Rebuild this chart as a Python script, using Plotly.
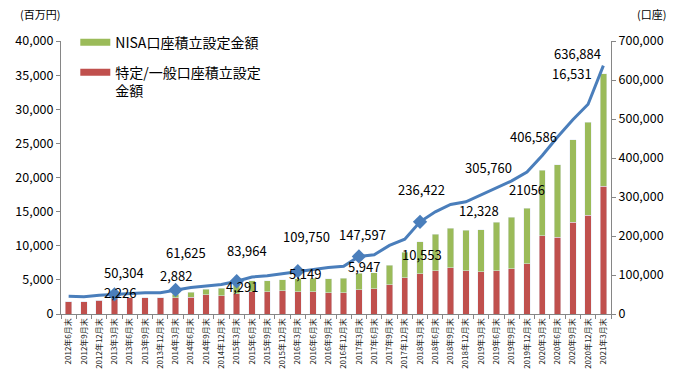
import plotly.graph_objects as go

categories = [
    "2012年6月末", "2012年9月末", "2012年12月末",
    "2013年3月末", "2013年6月末", "2013年9月末", "2013年12月末",
    "2014年3月末", "2014年6月末", "2014年9月末", "2014年12月末",
    "2015年3月末", "2015年6月末", "2015年9月末", "2015年12月末",
    "2016年3月末", "2016年6月末", "2016年9月末", "2016年12月末",
    "2017年3月末", "2017年6月末", "2017年9月末", "2017年12月末",
    "2018年3月末", "2018年6月末", "2018年9月末", "2018年12月末",
    "2019年3月末", "2019年6月末", "2019年9月末", "2019年12月末",
    "2020年3月末", "2020年6月末", "2020年9月末", "2020年12月末",
    "2021年3月末",
]

# 特定/一般口座積立設定金額 (百万円)
general_amount = [
    1810, 1810, 1990, 2226, 2450, 2400, 2400, 2400, 2420, 2820, 2700, 2990,
    3280, 3280, 3430, 3280, 3280, 3140, 3080, 3550, 3720, 4310, 5340, 5930,
    6370, 6810, 6370, 6220, 6370, 6660, 7400, 11500, 11220, 13450, 14450, 18700,
]

# NISA口座積立設定金額 (百万円)
nisa_amount = [
    0, 0, 0, 0, 0, 0, 0, 482, 740, 790, 1070, 1301,
    1570, 1570, 1620, 1869, 1960, 2050, 2160, 2397, 2310, 2840, 3680, 4623,
    5290, 5780, 5930, 6108, 7100, 7550, 8080, 9556, 10630, 12070, 13680, 16531,
]

# 口座数
accounts = [
    45300, 44400, 47900, 50304, 53800, 54300, 54800, 61625, 68000, 72000, 75400, 83964,
    95000, 98100, 103200, 109750, 115000, 119000, 122500, 147597, 152000, 176000, 192000, 236422,
    262000, 281000, 287600, 305760, 322700, 341400, 364000, 406586, 454000, 498000, 538000, 636884,
]

marked_points = ["2013年3月末", "2014年3月末", "2015年3月末", "2016年3月末", "2017年3月末", "2018年3月末"]

account_labels = {
    "2013年3月末": "50,304", "2014年3月末": "61,625", "2015年3月末": "83,964",
    "2016年3月末": "109,750", "2017年3月末": "147,597", "2018年3月末": "236,422",
    "2019年3月末": "305,760", "2020年3月末": "406,586", "2021年3月末": "636,884",
}
amount_labels = {
    "2013年3月末": "2,226", "2014年3月末": "2,882", "2015年3月末": "4,291",
    "2016年3月末": "5,149", "2017年3月末": "5,947", "2018年3月末": "10,553",
    "2019年3月末": "12,328", "2020年3月末": "21056", "2021年3月末": "16,531",
}

# label offsets in pixels (xshift, yshift)
account_offsets = [(10, 22), (10, 37), (10, 31), (9, 35), (4, 22), (1, 32), (7, 27), (-9, 19), (-26, 12)]
amount_offsets = [(6, 6), (0, 19), (5, -2), (7, 5), (5, 7), (2, -13), (-2, 19), (-15, -19), (-31, 0)]

RED = "#C0504D"
GREEN = "#9BBB59"
BLUE = "#4A7EBB"
FONT = "Noto Sans CJK JP"

fig = go.Figure()
fig.add_trace(go.Bar(x=categories, y=general_amount, marker_color=RED, showlegend=False,
                     name="特定/一般口座積立設定金額"))
fig.add_trace(go.Bar(x=categories, y=nisa_amount, marker_color=GREEN, showlegend=False,
                     name="NISA口座積立設定金額"))
fig.add_trace(go.Scatter(x=categories, y=accounts, yaxis="y2", mode="lines",
                         line=dict(color=BLUE, width=3), showlegend=False))
mk_y = [accounts[categories.index(c)] for c in marked_points]
fig.add_trace(go.Scatter(x=marked_points, y=mk_y, yaxis="y2", mode="markers",
                         marker=dict(symbol="diamond", size=11, color=BLUE), showlegend=False))

# legend entries (line-style swatches like the original)
fig.add_trace(go.Scatter(x=[None], y=[None], mode="lines", line=dict(color=GREEN, width=7),
                         name="NISA口座積立設定金額", legendgroup="a"))
fig.add_trace(go.Scatter(x=[None], y=[None], mode="lines", line=dict(color=RED, width=7),
                         name="特定/一般口座積立設定<br>金額", legendgroup="b"))

annotations = []
for (cat, txt), (dx, dy) in zip(account_labels.items(), account_offsets):
    annotations.append(dict(x=cat, y=accounts[categories.index(cat)], xref="x", yref="y2",
                            text=txt, showarrow=False, xshift=dx, yshift=dy,
                            font=dict(size=13, color="#000000", family=FONT)))
for (cat, txt), (dx, dy) in zip(amount_labels.items(), amount_offsets):
    i = categories.index(cat)
    annotations.append(dict(x=cat, y=general_amount[i] + nisa_amount[i], xref="x", yref="y",
                            text=txt, showarrow=False, xshift=dx, yshift=dy,
                            font=dict(size=13, color="#000000", family=FONT)))
annotations.append(dict(x=-0.078, y=1.10, xref="paper", yref="paper", text="(百万円)",
                        xanchor="left", yanchor="middle", showarrow=False,
                        font=dict(size=11, color="#000000", family=FONT)))
annotations.append(dict(x=1.044, y=1.10, xref="paper", yref="paper", text="(口座)",
                        xanchor="left", yanchor="middle", showarrow=False,
                        font=dict(size=11, color="#000000", family=FONT)))

fig.update_layout(
    width=680, height=379,
    margin=dict(l=61, r=69, t=41, b=65, autoexpand=False),
    paper_bgcolor="white", plot_bgcolor="white",
    barmode="stack", bargap=0.58,
    font=dict(family=FONT, color="#000000"),
    showlegend=True,
    legend=dict(x=0.026, y=1.053, xanchor="left", yanchor="top", traceorder="grouped",
                tracegroupgap=9, valign="top", bgcolor="rgba(0,0,0,0)",
                font=dict(size=14, family=FONT, color="#000000")),
    xaxis=dict(type="category", tickangle=-90, automargin=False,
               tickfont=dict(size=8, family=FONT, color="#222222"),
               showline=True, linecolor="#868686", linewidth=1, ticks="outside",
               tickson="boundaries", ticklen=4, tickcolor="#868686", showgrid=False),
    yaxis=dict(range=[0, 40000], dtick=5000, tickformat=",", showgrid=False, zeroline=False,
               automargin=False,
               showline=True, linecolor="#868686", linewidth=1, ticks="outside", ticklen=4,
               tickcolor="#868686", tickfont=dict(size=12.5, family=FONT, color="#000000")),
    yaxis2=dict(range=[0, 700000], dtick=100000, tickformat=",", overlaying="y", side="right",
                automargin=False,
                showgrid=False, zeroline=False, showline=True, linecolor="#868686", linewidth=1,
                ticks="outside", ticklen=4, tickcolor="#868686",
                tickfont=dict(size=12.5, family=FONT, color="#000000")),
    annotations=annotations,
)

fig.write_html("out.html", config={"displayModeBar": False},
               post_script="document.body.style.margin='0';")
